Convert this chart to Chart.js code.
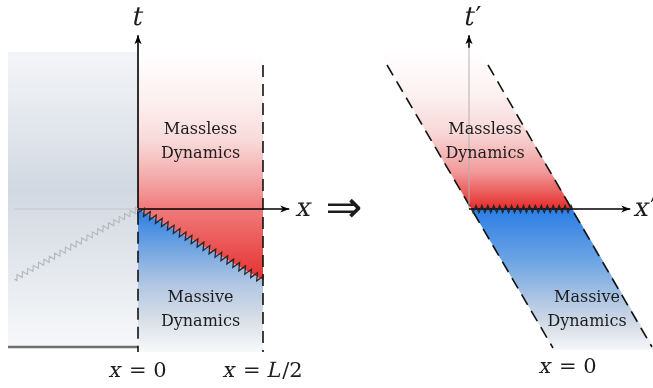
<!DOCTYPE html>
<html><head><meta charset="utf-8">
<script src="https://cdn.jsdelivr.net/npm/chart.js@4/dist/chart.umd.min.js"></script>
<style>html,body{margin:0;padding:0;background:#fff;}#wrap{width:653px;height:388px;position:relative;}</style>
</head><body><div id="wrap"><canvas id="c" width="653" height="388"></canvas></div>
<script>
// ===== DATA (x and t in units of L/2; right panel in boosted-frame coordinates x', t') =====
// Left panel: lab frame
const leftMassless   = [[0,1.256],[1,1.256],[1,-0.57],[0,0]];
const leftMassive    = [[0,0],[1,-0.57],[1,-1.144],[0,-1.144]];
const leftMirror     = [[-1.04,1.256],[0,1.256],[0,-1.104],[-1.04,-1.104]];
const leftMirrorEdge = [[-1.04,-1.104],[0,-1.104]];
const leftShock      = [[0,0],[1,-0.57]];
const leftGhostShock = [[-0.99,-0.56],[0,0]];
const leftGhostAxis  = [[-0.99,0],[0,0]];
const tAxis          = [[0,0],[0,1.39]];
const xAxis          = [[0,0],[1.21,0]];
const wallX0         = [[0,-0.03],[0,-1.144]];
const wallXL         = [[1,1.152],[1,-1.144]];
// Right panel: boosted frame
const rightMassless  = [[-0.718,1.256],[0.09,1.256],[0.828,0],[0.02,0]];
const rightMassive   = [[0.02,0],[0.828,0],[1.49,-1.128],[0.68,-1.128]];
const rightShock     = [[0.02,0],[0.828,0]];
const rightWallA     = [[-0.656,1.152],[0.672,-1.112]];
const rightWallB     = [[0.152,1.152],[1.464,-1.104]];
const tpAxisGrey     = [[0,0],[0,1.31]];
const tpAxisTip      = [[0,1.29],[0,1.39]];
const xpAxis         = [[0,0],[1.29,0]];
// Colour ramps over t: [t, colour]
const leftMasslessRamp  = [[1.256,'#ffffff'],[0.85,'#fcefef'],[0.55,'#f9dada'],[0.25,'#f4aaaa'],[0,'#f07a7a'],[-0.57,'#e63030']];
const leftMassiveRamp   = [[0,'#2a7de2'],[-0.3,'#6ea3e2'],[-0.62,'#b4c8e2'],[-0.9,'#dae0e8'],[-1.144,'#f8f9fa']];
const mirrorRamp        = [[1.256,'#f4f5f7'],[0.6,'#e0e5eb'],[0.15,'#d1d8e1'],[-0.5,'#e5e9ee'],[-1.104,'#f7f8fa']];
const rightMasslessRamp = [[1.256,'#ffffff'],[0.9,'#fcf0f0'],[0.6,'#f8d6d6'],[0.3,'#f29a9a'],[0,'#e72b2b']];
const rightMassiveRamp  = [[0,'#2a7ee5'],[-0.4,'#6aa3e4'],[-0.75,'#b3c8e3'],[-0.95,'#d8dfe8'],[-1.128,'#f6f7f9']];
// Texts
const regionWords   = ['Massless','Dynamics','Massive','Dynamics'];
const leftWordAt    = [[0.5,0.632],[0.5,0.44],[0.5,-0.712],[0.5,-0.904]];
const rightWordAt   = [[0.128,0.632],[0.128,0.44],[0.944,-0.712],[0.944,-0.904]];
const mathLabels    = ['t','x','x = 0','x = L/2','t\u2032','x\u2032','x = 0'];
const mathAt        = [[0,1.528,'L'],[1.33,0,'L'],[0,-1.304,'L'],[1,-1.304,'L'],[0.03,1.528,'R'],[1.41,0,'R'],[0.792,-1.272,'R']];
const mathSize      = [26,26,21,21,26,26,21];
const implies       = '\u21D2';
const impliesAt     = [1.648,-0.01];

// ===== layout of the two frames on one pair of scales =====
const RIGHT_OFFSET = 2.648;   // where the boosted origin sits in lab units
const X_MIN = -1.104, X_MAX = 4.12, T_MIN = -1.432, T_MAX = 1.672;

const pts = (arr, dx) => arr.map(([x,y]) => ({x: x + (dx||0), y}));
function ramp(stops){
  return (ctx) => {
    const ch = ctx.chart;
    if (!ch.chartArea) return 'rgba(0,0,0,0)';
    const ys = ch.scales.y;
    const y0 = ys.getPixelForValue(stops[0][0]);
    const y1 = ys.getPixelForValue(stops[stops.length-1][0]);
    const g = ch.ctx.createLinearGradient(0, y0, 0, y1);
    stops.forEach(([t,c]) => g.addColorStop(Math.min(1,Math.max(0,(ys.getPixelForValue(t)-y0)/(y1-y0))), c));
    return g;
  };
}
const datasets = [];
function area(arr, dx, stops){
  datasets.push({data: pts(arr,dx), fill:'shape', backgroundColor: ramp(stops), borderWidth:0, borderColor:'rgba(0,0,0,0)', pointRadius:0, tension:0});
}
function line(arr, dx, color, width, dash, extra){
  datasets.push(Object.assign({data: pts(arr,dx), fill:false, borderColor:color, borderWidth:width, borderDash:dash||[], pointRadius:0, tension:0, borderCapStyle:'butt'}, extra||{}));
}
area(leftMirror, 0, mirrorRamp);
area(leftMassless, 0, leftMasslessRamp);
area(leftMassive, 0, leftMassiveRamp);
area(rightMassless, RIGHT_OFFSET, rightMasslessRamp);
area(rightMassive, RIGHT_OFFSET, rightMassiveRamp);
line(leftMirrorEdge, 0, '#6e6e6e', 2.6);
line(leftGhostAxis, 0, '#c4c8cd', 1.2);
line(leftGhostShock, 0, 'rgba(0,0,0,0)', 0, null, {zigzag:{color:'#b4b8bc', amp:2.6, wave:6.2, width:1.1}});
line(wallX0, 0, '#111', 1.6, [12,7]);
line(wallXL, 0, '#111', 1.6, [12,7]);
line(tAxis, 0, '#000', 1.6, null, {arrow:true});
line(xAxis, 0, '#000', 1.6, null, {arrow:true});
line(leftShock, 0, 'rgba(0,0,0,0)', 0, null, {zigzag:{color:'#262626', amp:3.8, wave:6.8, width:1.25}});
line(rightWallA, RIGHT_OFFSET, '#111', 1.6, [12,7]);
line(rightWallB, RIGHT_OFFSET, '#111', 1.6, [12,7]);
line(tpAxisGrey, RIGHT_OFFSET, '#b0b0b0', 1);
line(tpAxisTip, RIGHT_OFFSET, '#000', 1.6, null, {arrow:true});
line(xpAxis, RIGHT_OFFSET, '#000', 1.6, null, {arrow:true});
line(rightShock, RIGHT_OFFSET, 'rgba(0,0,0,0)', 0, null, {zigzag:{color:'#262626', amp:3.6, wave:6.0, width:1.25}});
datasets.forEach((d,i) => d.order = datasets.length - i);

const SERIF = '"DejaVu Serif"';
const SLANT = -0.22;
function drawMath(ctx, str, cx, cy, size){
  const runs = [];
  for (const ch of str){
    const it = /[A-Za-z]/.test(ch);
    if (runs.length && runs[runs.length-1].it === it) runs[runs.length-1].s += ch;
    else runs.push({it, s: ch});
  }
  ctx.font = size + 'px ' + SERIF;
  let total = 0;
  runs.forEach(r => { r.w = ctx.measureText(r.s).width + (r.it?1:0); total += r.w; });
  let x = cx - total/2;
  runs.forEach(r => {
    if (r.it){
      ctx.save(); ctx.translate(x, cy); ctx.transform(1,0,SLANT,1,0,0);
      ctx.fillText(r.s, 0, 0); ctx.restore();
    } else ctx.fillText(r.s, x, cy);
    x += r.w;
  });
}
const decor = {
  id:'decor',
  afterDatasetsDraw(chart){
    const ctx = chart.ctx, xs = chart.scales.x, ys = chart.scales.y;
    ctx.save();
    chart.data.datasets.forEach((ds,i) => {
      const pts = chart.getDatasetMeta(i).data;
      if (ds.zigzag){
        const z = ds.zigzag, a = pts[0], b = pts[pts.length-1];
        const dx = b.x-a.x, dy = b.y-a.y, L = Math.hypot(dx,dy);
        const ux = dx/L, uy = dy/L, nx = -uy, ny = ux;
        const n = Math.max(1, Math.round(L / z.wave)), step = L / n;
        ctx.beginPath(); ctx.moveTo(a.x, a.y);
        for (let k = 0; k < n; k++){
          const s1 = k*step + step*0.25, s2 = k*step + step*0.75;
          ctx.lineTo(a.x+ux*s1+nx*z.amp, a.y+uy*s1+ny*z.amp);
          ctx.lineTo(a.x+ux*s2-nx*z.amp, a.y+uy*s2-ny*z.amp);
        }
        ctx.lineTo(b.x, b.y);
        ctx.strokeStyle = z.color; ctx.lineWidth = z.width; ctx.lineJoin='miter'; ctx.stroke();
      }
      if (ds.arrow){
        const a = pts[pts.length-2], b = pts[pts.length-1];
        const dx = b.x-a.x, dy = b.y-a.y, L = Math.hypot(dx,dy);
        const ux = dx/L, uy = dy/L, nx = -uy, ny = ux, len = 9, half = 3.6;
        ctx.beginPath();
        ctx.moveTo(b.x, b.y);
        ctx.lineTo(b.x-ux*len+nx*half, b.y-uy*len+ny*half);
        ctx.lineTo(b.x-ux*len*0.72, b.y-uy*len*0.72);
        ctx.lineTo(b.x-ux*len-nx*half, b.y-uy*len-ny*half);
        ctx.closePath(); ctx.fillStyle = '#000'; ctx.fill();
      }
    });
    ctx.fillStyle = '#1c1c1c'; ctx.textBaseline = 'middle';
    ctx.font = '16px ' + SERIF;
    ctx.textAlign = 'center';
    regionWords.forEach((w,k) => {
      ctx.fillText(w, xs.getPixelForValue(leftWordAt[k][0]), ys.getPixelForValue(leftWordAt[k][1]));
      ctx.fillText(w, xs.getPixelForValue(rightWordAt[k][0] + RIGHT_OFFSET), ys.getPixelForValue(rightWordAt[k][1]));
    });
    ctx.textAlign = 'left';
    mathLabels.forEach((s,k) => {
      const [x,t,f] = mathAt[k];
      drawMath(ctx, s, xs.getPixelForValue(x + (f==='R'?RIGHT_OFFSET:0)), ys.getPixelForValue(t), mathSize[k]);
    });
    ctx.textAlign = 'center';
    ctx.font = '44px "DejaVu Sans"';
    ctx.fillText(implies, xs.getPixelForValue(impliesAt[0]), ys.getPixelForValue(impliesAt[1]));
    ctx.restore();
  }
};

function build(){
  new Chart(document.getElementById('c'), {
    type:'line',
    data:{datasets},
    options:{
      responsive:false, animation:false, events:[],
      layout:{padding:0},
      plugins:{legend:{display:false}, tooltip:{enabled:false}, filler:{propagate:false}},
      scales:{
        x:{type:'linear', min:X_MIN, max:X_MAX, display:false, bounds:'data'},
        y:{type:'linear', min:T_MIN, max:T_MAX, display:false, bounds:'data'}
      }
    },
    plugins:[decor]
  });
}
const fontReqs = ['16px "DejaVu Serif"', '21px "DejaVu Serif"', '44px "DejaVu Sans"'];
if (document.fonts && document.fonts.load) {
  Promise.all(fontReqs.map(f => document.fonts.load(f, 'Mx=0L/2\u2032\u21D2'))).then(build, build);
} else build();
</script></body></html>
